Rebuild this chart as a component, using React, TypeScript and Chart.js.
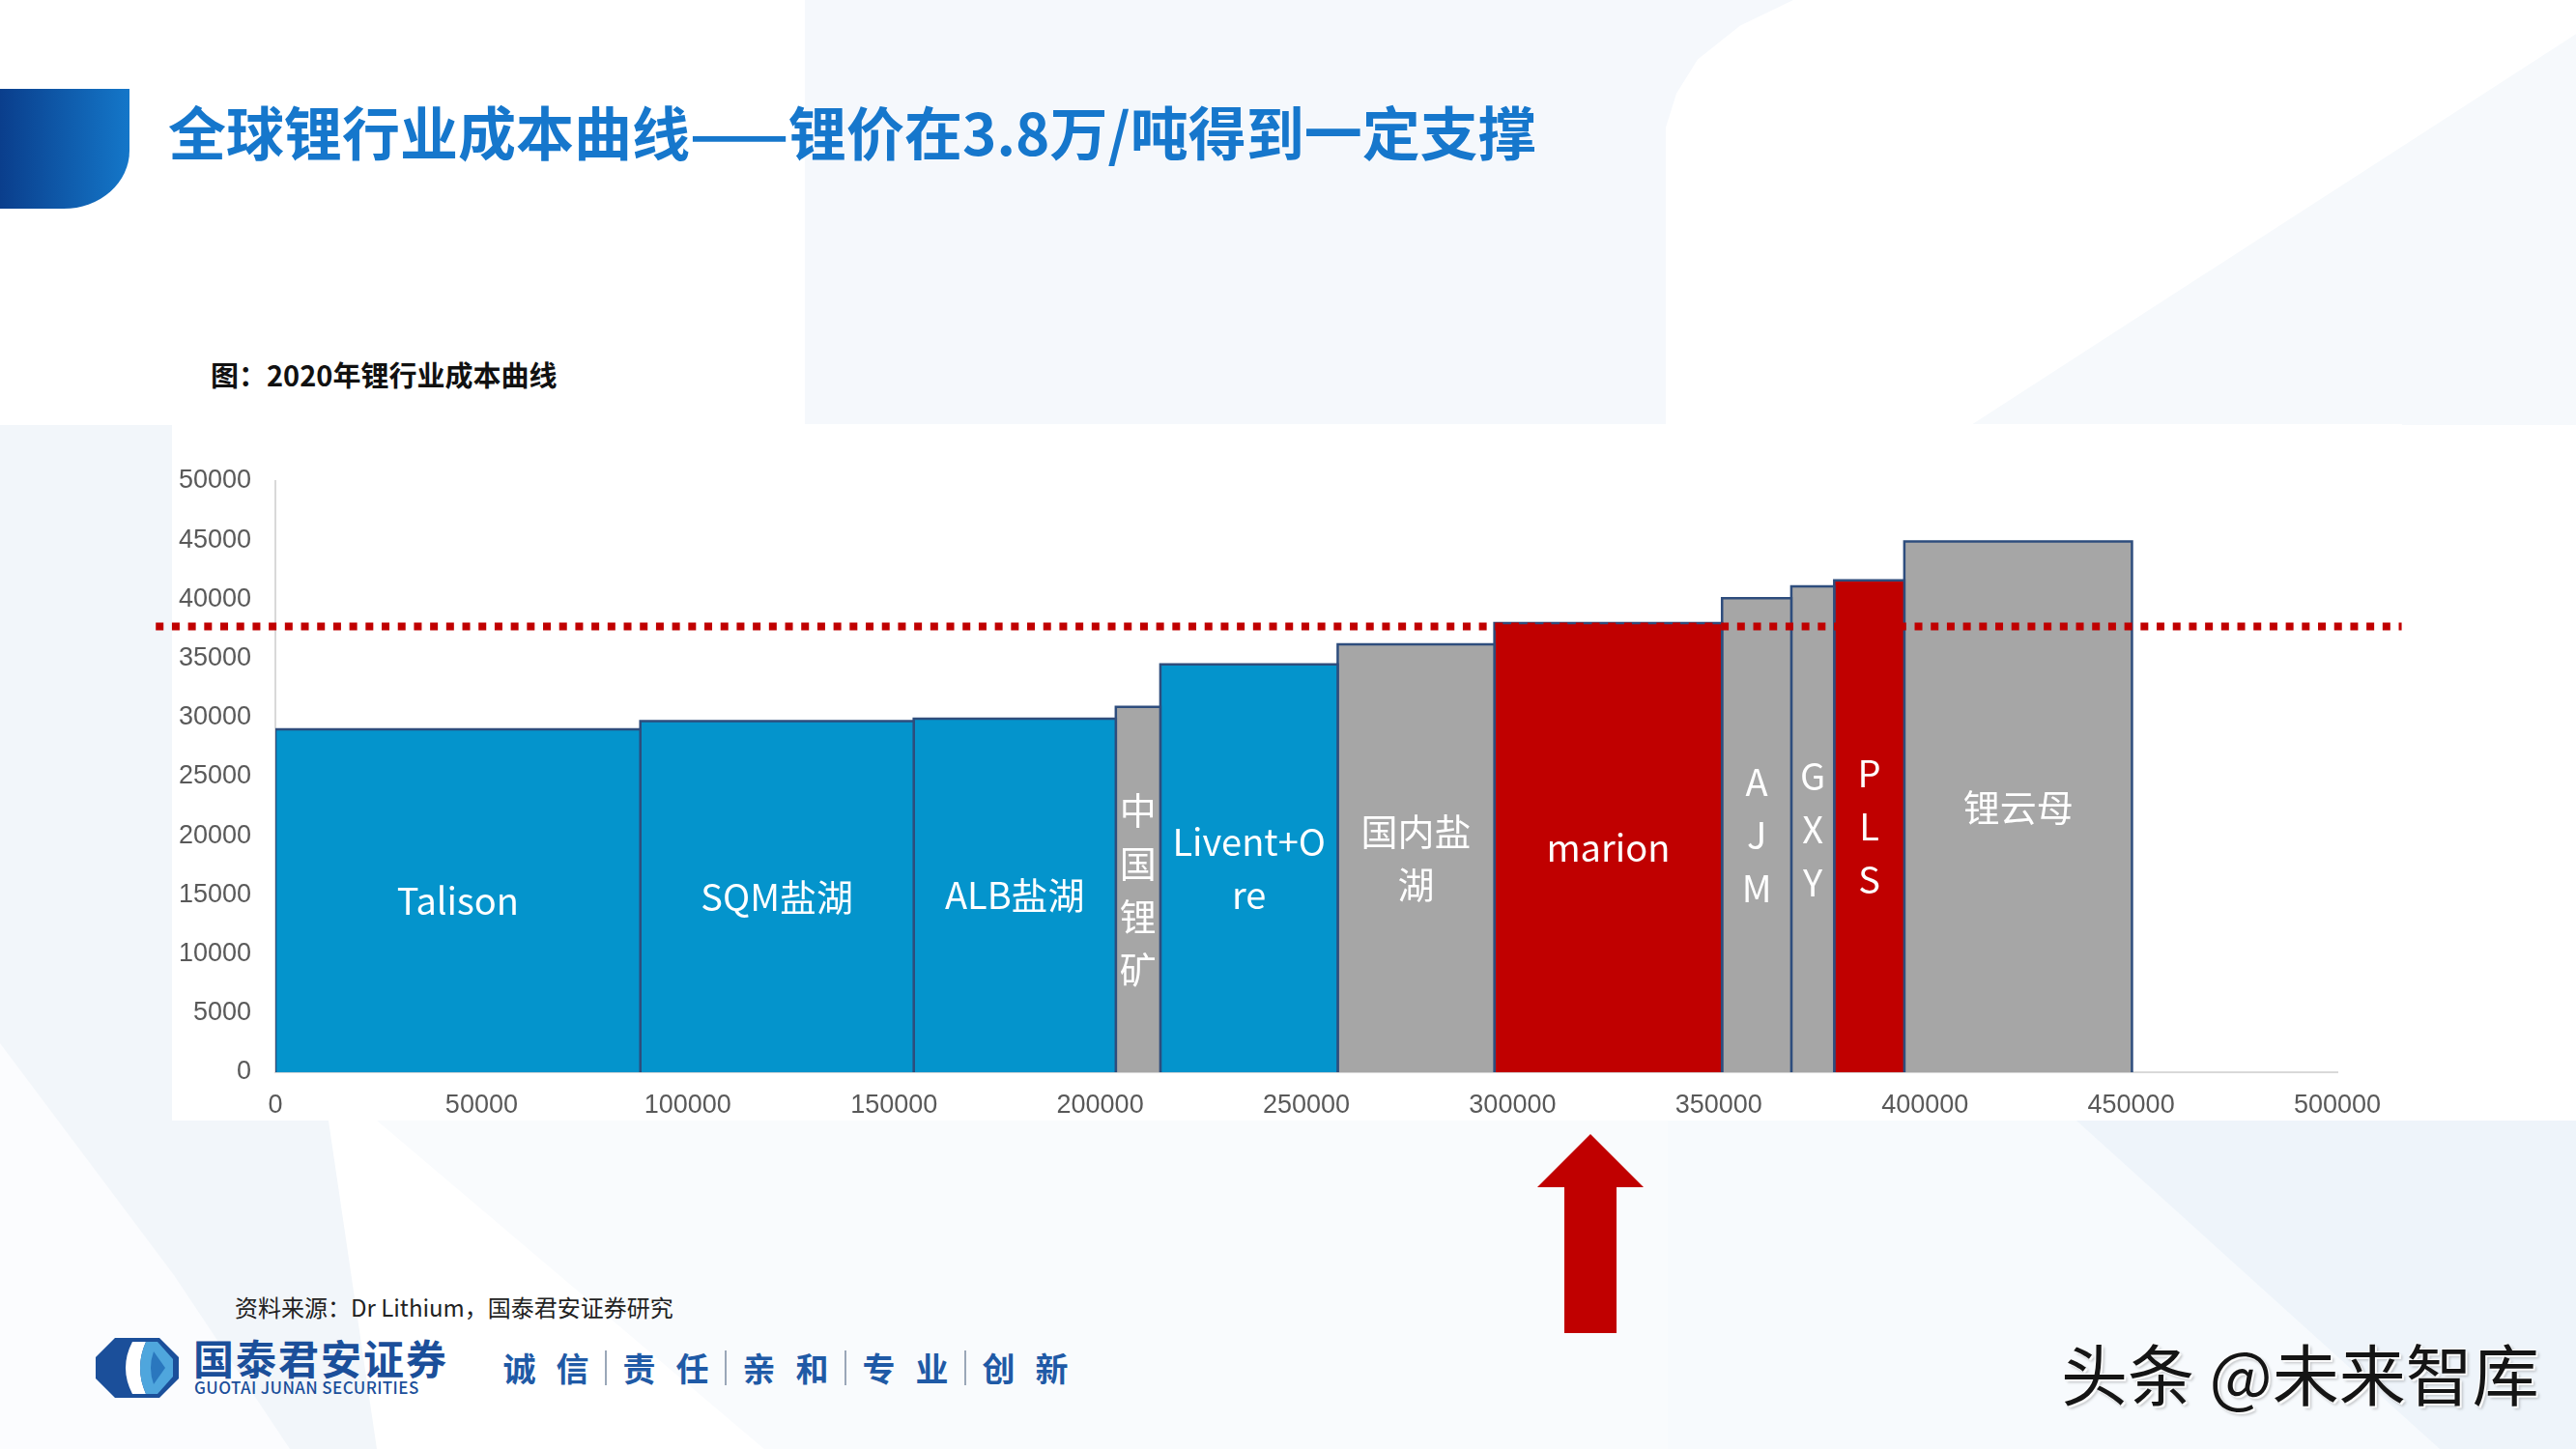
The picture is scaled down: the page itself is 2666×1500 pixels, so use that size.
import React, { useEffect, useRef } from 'react';
import { Chart, registerables } from 'chart.js';

Chart.register(...registerables);

// ---------- data ----------
const producers = ['Talison', 'SQM盐湖', 'ALB盐湖', '中国锂矿', 'Livent+Ore', '国内盐湖', 'marion', 'AJM', 'GXY', 'PLS', '锂云母'];
const capacity = [88500, 66300, 49000, 10800, 43000, 38000, 55200, 16800, 10400, 17000, 55200];
const cashCost = [29000, 29700, 29900, 30900, 34500, 36200, 38000, 40100, 41100, 41600, 44900];
const barLabelLines = [
  ['Talison'],
  ['SQM盐湖'],
  ['ALB盐湖'],
  ['中', '国', '锂', '矿'],
  ['Livent+O', 're'],
  ['国内盐', '湖'],
  ['marion'],
  ['A', 'J', 'M'],
  ['G', 'X', 'Y'],
  ['P', 'L', 'S'],
  ['锂云母'],
];
const lithiumPrice = 37700;
const priceLineSpan = [-29000, 515600];
const xMin = 0;
const xMax = 500000;
const xStep = 50000;
const yMin = 0;
const yMax = 50000;
const yStep = 5000;

// ---------- styles ----------
const BLUE = '#0494CC';
const GRAY = '#A6A6A6';
const RED = '#C00000';
const barColors = [BLUE, BLUE, BLUE, GRAY, BLUE, GRAY, RED, GRAY, GRAY, RED, GRAY];
const BAR_BORDER = '#2E4D7D';
const AXIS_TEXT = '#595959';

const starts: number[] = [];
{
  let acc = 0;
  capacity.forEach((c) => {
    starts.push(acc);
    acc += c;
  });
}

const barLabelPlugin = {
  id: 'barLabels',
  afterDatasetsDraw(chart: any) {
    const { ctx, scales } = chart;
    const x = scales.x;
    const y = scales.y;
    ctx.save();
    ctx.font = '38px "Noto Sans CJK SC", "Noto Sans", sans-serif';
    ctx.fillStyle = '#FFFFFF';
    ctx.textAlign = 'center';
    ctx.textBaseline = 'middle';
    producers.forEach((_, i) => {
      const cx = x.getPixelForValue(starts[i] + capacity[i] / 2);
      const cy = y.getPixelForValue(cashCost[i] / 2);
      const lines = barLabelLines[i];
      const lh = 55;
      lines.forEach((t, k) => {
        ctx.fillText(t, cx, cy + (k - (lines.length - 1) / 2) * lh);
      });
    });
    ctx.restore();
  },
};

function CostCurve() {
  const ref = useRef<HTMLCanvasElement | null>(null);
  useEffect(() => {
    if (!ref.current) return;
    const priceDataset = {
      label: '锂价',
      data: [
        { x: priceLineSpan[0], y: lithiumPrice },
        { x: priceLineSpan[1], y: lithiumPrice },
      ],
      borderColor: RED,
      borderWidth: 8,
      borderDash: [8, 8.7],
      borderCapStyle: 'butt',
      pointRadius: 0,
      fill: false,
      clip: false,
      tension: 0,
    };
    const barDatasets = producers.map((name, i) => ({
      label: name,
      data: [
        { x: starts[i], y: 0 },
        { x: starts[i], y: cashCost[i] },
        { x: starts[i] + capacity[i], y: cashCost[i] },
        { x: starts[i] + capacity[i], y: 0 },
      ],
      backgroundColor: barColors[i],
      borderColor: BAR_BORDER,
      borderWidth: 2.5,
      borderJoinStyle: 'miter',
      pointRadius: 0,
      fill: 'origin',
      tension: 0,
    }));
    const chart = new Chart(ref.current, {
      type: 'line',
      data: { datasets: [priceDataset, ...barDatasets] as any },
      options: {
        animation: false,
        responsive: false,
        layout: { padding: { top: 59, right: 67, left: 0, bottom: 0 } },
        plugins: {
          legend: { display: false },
          tooltip: { enabled: false },
          title: { display: false },
        },
        scales: {
          x: {
            type: 'linear',
            min: xMin,
            max: xMax,
            grid: { display: false, drawTicks: false },
            border: { display: true, color: '#D9D9D9', width: 2 },
            ticks: {
              stepSize: xStep,
              padding: 18,
              color: AXIS_TEXT,
              font: { family: '"Liberation Sans", Arial, sans-serif', size: 27 },
              maxRotation: 0,
              autoSkip: false,
              callback: (v: any) => String(v),
            },
            afterFit: (scale: any) => {
              scale.height = 50;
            },
          },
          y: {
            type: 'linear',
            min: yMin,
            max: yMax,
            grid: { display: false, drawTicks: false },
            border: { display: true, color: '#D9D9D9', width: 2 },
            ticks: {
              stepSize: yStep,
              padding: 25,
              color: AXIS_TEXT,
              font: { family: '"Liberation Sans", Arial, sans-serif', size: 27 },
              autoSkip: false,
              callback: (v: any) => String(v),
            },
            afterFit: (scale: any) => {
              scale.width = 135;
            },
          },
        },
      } as any,
      plugins: [barLabelPlugin],
    });
    return () => chart.destroy();
  }, []);
  return <canvas ref={ref} width={2336} height={721} style={{ position: 'absolute', left: 150, top: 439, width: 2336, height: 721 }} />;
}

const sloganPairs = [['诚', '信'], ['责', '任'], ['亲', '和'], ['专', '业'], ['创', '新']];

export default function App() {
  const abs = (o: any) => ({ position: 'absolute' as const, ...o });
  return (
    <div style={{ position: 'absolute', left: 0, top: 0, width: 2666, height: 1500, overflow: 'hidden', background: '#FFFFFF', fontFamily: '"Noto Sans CJK SC", "Noto Sans", sans-serif' }}>
      {/* background decoration */}
      <div style={abs({ left: 833, top: 0, width: 1100, height: 440, background: '#F5F8FC', clipPath: 'polygon(0 0, 93% 0, 88% 6%, 84% 14%, 82% 22%, 81% 30%, 81% 100%, 0 100%)' })} />
      <div style={abs({ left: 2000, top: 0, width: 666, height: 440, background: '#F6F9FC', clipPath: 'polygon(100% 8%, 100% 100%, 6% 100%)' })} />
      <div style={abs({ left: 0, top: 440, width: 390, height: 1060, background: '#F2F6FA', clipPath: 'polygon(0 0, 60% 0, 100% 100%, 0 100%)' })} />
      <div style={abs({ left: 0, top: 900, width: 300, height: 600, background: '#FBFCFE', clipPath: 'polygon(0 30%, 60% 70%, 100% 100%, 0 100%)' })} />
      <div style={abs({ left: 1726, top: 1160, width: 940, height: 340, background: '#EEF4FA' })} />
      <div style={abs({ left: 1726, top: 1160, width: 940, height: 340, background: '#F7FAFD', clipPath: 'polygon(0 0, 45% 0, 85% 100%, 0 100%)' })} />
      <div style={abs({ left: 390, top: 1160, width: 1336, height: 340, background: '#F9FBFD', clipPath: 'polygon(0 0, 100% 0, 100% 100%, 30% 100%)' })} />

      {/* header */}
      <div style={abs({ left: 0, top: 92, width: 134, height: 124, background: 'linear-gradient(90deg, #0A3E8C 0%, #1477C9 100%)', borderRadius: '0 0 68px 0 / 0 0 60px 0' })} />
      <div style={abs({ left: 174, top: 97, height: 76, lineHeight: '76px', fontSize: 60, fontWeight: 700, color: '#1677CC', whiteSpace: 'nowrap' })}>
        全球锂行业成本曲线——锂价在3.8万/吨得到一定支撑
      </div>

      <div style={abs({ left: 218, top: 369, height: 36, lineHeight: '36px', fontSize: 29, fontWeight: 700, color: '#111111', whiteSpace: 'nowrap' })}>
        图：2020年锂行业成本曲线
      </div>

      {/* chart panel */}
      <div style={abs({ left: 178, top: 439, width: 2308, height: 721, background: '#FFFFFF' })} />
      <CostCurve />

      {/* arrow */}
      <svg style={abs({ left: 1591, top: 1174 })} width={110} height={206} viewBox="0 0 110 206">
        <polygon points="55,0 110,55 82,55 82,206 28,206 28,55 0,55" fill="#C00000" />
      </svg>

      {/* source */}
      <div style={abs({ left: 243, top: 1338, height: 30, lineHeight: '30px', fontSize: 24, color: '#222222', whiteSpace: 'nowrap' })}>
        资料来源：Dr Lithium，国泰君安证券研究
      </div>

      {/* logo */}
      <svg style={abs({ left: 99, top: 1385 })} width={86} height={62} viewBox="0 0 86 62">
        <polygon points="20,0 66,0 86,20 86,42 66,62 20,62 0,42 0,20" fill="#1B4F9A" />
        <path d="M38,4 Q24,31 38,58 L52,58 Q40,31 52,4 Z" fill="#FFFFFF" />
        <path d="M52,4 L64,4 L80,22 L80,40 L64,58 L52,58 Q40,31 52,4 Z" fill="#4FA6DD" />
        <path d="M60,14 L72,31 L60,48 Q54,31 60,14 Z" fill="#2A77BE" />
      </svg>
      <div style={abs({ left: 200, top: 1381, height: 48, lineHeight: '48px', fontSize: 42, fontWeight: 700, color: '#1B4F9A', letterSpacing: 2, whiteSpace: 'nowrap' })}>
        国泰君安证券
      </div>
      <div style={abs({ left: 201, top: 1426, height: 20, lineHeight: '20px', fontSize: 17, fontWeight: 500, color: '#1B4F9A', letterSpacing: 0.4, whiteSpace: 'nowrap' })}>
        GUOTAI JUNAN SECURITIES
      </div>

      {/* slogan */}
      <div style={abs({ left: 510, top: 1396, height: 40, display: 'flex', alignItems: 'center' })}>
        {sloganPairs.map((pair, i) => (
          <React.Fragment key={i}>
            {i > 0 && (
              <div style={{ width: 14, height: 40, display: 'flex', justifyContent: 'center' }}>
                <div style={{ width: 2, height: 36, marginTop: 2, background: '#9AA7B8' }} />
              </div>
            )}
            {pair.map((c, k) => (
              <div key={k} style={{ width: 55, textAlign: 'center', fontSize: 34, fontWeight: 700, color: '#1F5AA6', lineHeight: '40px' }}>
                {c}
              </div>
            ))}
          </React.Fragment>
        ))}
      </div>

      {/* watermark */}
      <div style={abs({ left: 2133, top: 1378, height: 84, lineHeight: '84px', fontSize: 69, color: '#151515', whiteSpace: 'nowrap', textShadow: '2px 2px 1px #FFFFFF, -1px -1px 1px #FFFFFF, 3px 3px 3px rgba(0,0,0,0.25)' })}>
        头条 @未来智库
      </div>
    </div>
  );
}
